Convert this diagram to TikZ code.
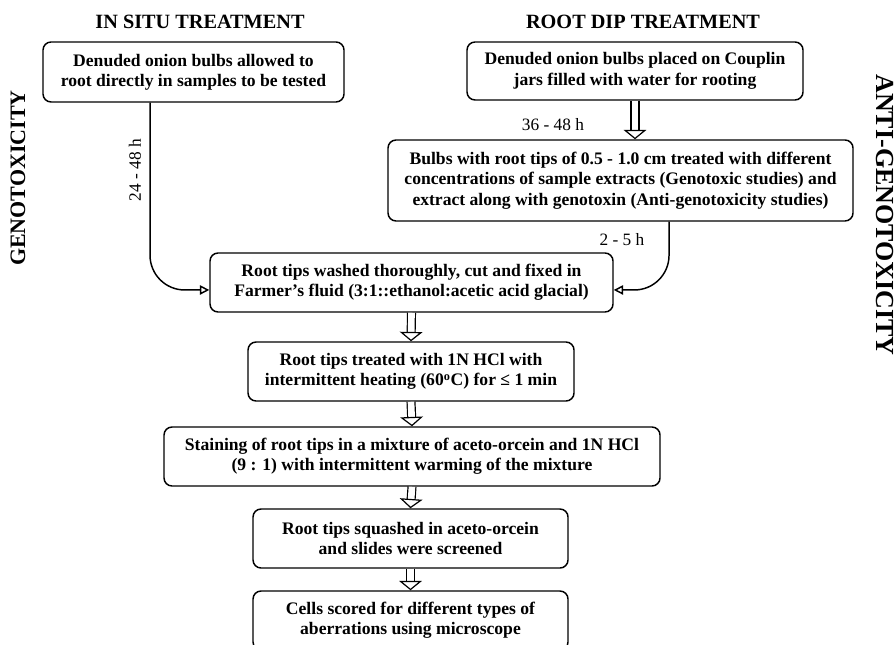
\documentclass[tikz,border=0pt]{standalone}
\usepackage{fontspec}
\setmainfont{Liberation Serif}
\usetikzlibrary{arrows.meta}

\tikzset{every picture/.style={line width=0.75pt}}
\tikzset{
  stage/.style={draw, rounded corners=6pt, line width=1.1pt, inner sep=0pt, align=center,
    font=\bfseries\fontsize{13.2}{15.3}\selectfont},
  hollow/.style={draw, double, double distance=5pt, line width=0.9pt,
    -{Triangle[open, length=7pt, width=17pt]}},
  tip/.style={draw, line width=1.1pt, rounded corners=26pt, -{Triangle[open, length=7pt, width=7pt]}},
  hours/.style={font=\fontsize{13}{15}\selectfont, inner sep=0.75pt},
  heading/.style={font=\bfseries\fontsize{15.2}{18}\selectfont, inner sep=0.75pt},
  side/.style={font=\bfseries\fontsize{16.5}{19}\selectfont, inner sep=0.75pt}
}

\begin{document}
\begin{tikzpicture}[x=0.75pt,y=0.75pt,yscale=-1,xscale=1]
\useasboundingbox (0,0) rectangle (895,645);

% Text Node
\node [heading] (insituT) at (200,22) {IN SITU TREATMENT};
% Text Node
\node [heading] (rootdipT) at (643,22) {ROOT DIP TREATMENT};
% Text Node
\node [side, rotate=90] (genoT) at (18,178) {GENOTOXICITY};
% Text Node
\node [side, rotate=-90, font=\bfseries\fontsize{19.5}{22}\selectfont] (antiT) at (885,215) {ANTI-GENOTOXICITY};

%Shape: Rectangle
\node [stage, minimum width=225.75pt, minimum height=45pt] (insitu) at (193.5,72) {Denuded onion bulbs allowed to\\root directly in samples to be tested};
%Shape: Rectangle
\node [stage, minimum width=252pt, minimum height=43.5pt] (rootdip) at (635,71) {Denuded onion bulbs placed on Couplin\\jars filled with water for rooting};
%Shape: Rectangle
\node [stage, minimum width=348.75pt, minimum height=60.75pt] (treat) at (620.5,180.5) {Bulbs with root tips of 0.5 - 1.0 cm treated with different\\concentrations of sample extracts (Genotoxic studies) and\\extract along with genotoxin (Anti-genotoxicity studies)};
%Shape: Rectangle
\node [stage, minimum width=302.25pt, minimum height=44.25pt] (wash) at (411.5,282.5) {Root tips washed thoroughly, cut and fixed in\\Farmer’s fluid (3:1::ethanol:acetic acid glacial)};
%Shape: Rectangle
\node [stage, minimum width=244.5pt, minimum height=44.25pt] (hcl) at (411,371.5) {Root tips treated with 1N HCl with\\intermittent heating (60\textsuperscript{o}C) for ≤ 1 min};
%Shape: Rectangle
\node [stage, minimum width=372pt, minimum height=44.25pt] (stain) at (412,456.5) {Staining of root tips in a mixture of aceto-orcein and 1N HCl\\(9 : 1) with intermittent warming of the mixture};
%Shape: Rectangle
\node [stage, minimum width=236.25pt, minimum height=44.25pt] (squash) at (410.5,538.5) {Root tips squashed in aceto-orcein\\and slides were screened};
%Shape: Rectangle
\node [stage, minimum width=236.25pt, minimum height=44.25pt] (score) at (410.5,620.5) {Cells scored for different types of\\aberrations using microscope};

%Straight Lines
\draw [hollow] (rootdip.south) -- (rootdip.south |- treat.north);
\draw [hollow] (wash.south) -- (hcl.north);
\draw [hollow] (hcl.south) -- (stain.north);
\draw [hollow] (stain.south) -- (squash.north);
\draw [hollow] (squash.south) -- (score.north);

%Curve Lines
\draw [tip] ([xshift=-32.6pt]insitu.south) |- ([yshift=5.6pt]wash.west);
%Curve Lines
\draw [tip] ([xshift=36.4pt]treat.south) |- ([yshift=5.6pt]wash.east);

% Text Node
\node [hours, rotate=90] (hA) at (135,170) {24 - 48 h};
% Text Node
\node [hours] (hB) at (553,125) {36 - 48 h};
% Text Node
\node [hours] (hC) at (622,240) {2 - 5 h};

\end{tikzpicture}
\end{document}
